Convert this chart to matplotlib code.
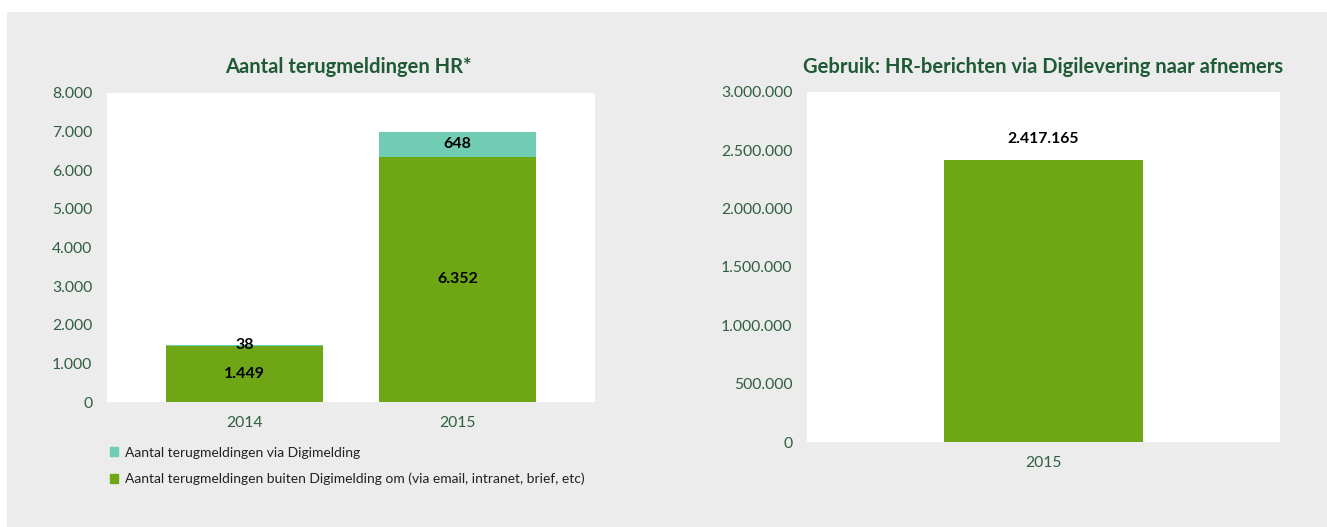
import matplotlib
matplotlib.use("Agg")
import matplotlib.pyplot as plt
from matplotlib.patches import Rectangle
from matplotlib.ticker import FuncFormatter, MultipleLocator

# ---- data ----
years_left = ["2014", "2015"]
buiten_digimelding = [1449, 6352]
via_digimelding = [38, 648]
legend_labels = ["Aantal terugmeldingen via Digimelding",
                 "Aantal terugmeldingen buiten Digimelding om (via email, intranet, brief, etc)"]
title_left = "Aantal terugmeldingen HR*"

years_right = ["2015"]
digilevering = [2417165]
title_right = "Gebruik: HR-berichten via Digilevering naar afnemers"

# ---- style ----
GREEN = "#6ea616"
TEAL = "#70cdb4"
TITLE_C = "#1f5a36"
TICK_C = "#2f5f40"
PANEL = "#ececec"
plt.rcParams['font.family'] = ['Lato', 'DejaVu Sans']

W, H = 1327, 527
fig = plt.figure(figsize=(W / 100, H / 100), dpi=100, facecolor="white")

# grey panel
fig.patches.append(Rectangle((7 / W, 0), 1 - 7 / W, (H - 12) / H,
                             transform=fig.transFigure, facecolor=PANEL,
                             edgecolor="none", zorder=-10))


def nl(v):
    return f"{int(round(v)):,}".replace(",", ".")


def px_axes(x0, y0, x1, y1):
    return fig.add_axes([x0 / W, (H - y1) / H, (x1 - x0) / W, (y1 - y0) / H])


def style(ax):
    ax.set_facecolor("white")
    for s in ax.spines.values():
        s.set_visible(False)
    ax.tick_params(length=0, colors=TICK_C, labelsize=11.3)
    ax.tick_params(axis="y", pad=10.5)
    ax.tick_params(axis="x", pad=10)
    ax.yaxis.set_major_formatter(FuncFormatter(lambda v, p: nl(v)))


# ---- left chart ----
axl = px_axes(107, 93, 595, 402)
style(axl)
x = range(len(years_left))
b1 = axl.bar(x, buiten_digimelding, width=0.74, color=GREEN, label=legend_labels[1])
b2 = axl.bar(x, via_digimelding, width=0.74, bottom=buiten_digimelding, color=TEAL,
             label=legend_labels[0])
axl.bar_label(b1, labels=[nl(v) for v in buiten_digimelding], label_type="center",
              fontsize=11.5, fontweight="bold", color="black")
axl.bar_label(b2, labels=[nl(v) for v in via_digimelding], label_type="center",
              fontsize=11.5, fontweight="bold", color="black")
axl.set_xticks(list(x))
axl.set_xticklabels(years_left)
axl.set_xlim(-0.645, 1.645)
axl.set_ylim(0, 8000)
axl.yaxis.set_major_locator(MultipleLocator(1000))
fig.text(348 / W, 1 - 67 / H, title_left, ha="center", va="center",
         fontsize=14.5, fontweight="bold", color=TITLE_C)

handles = [Rectangle((0, 0), 1, 1, color=TEAL), Rectangle((0, 0), 1, 1, color=GREEN)]
fig.legend(handles, legend_labels, loc="upper left",
           bbox_to_anchor=(104 / W, 1 - 441 / H), frameon=False,
           fontsize=10, labelcolor="#222222", handlelength=0.6, handleheight=0.6,
           handletextpad=0.5, labelspacing=1.0, borderaxespad=0)

# ---- right chart ----
axr = px_axes(807, 92, 1280, 442)
style(axr)
xr = range(len(years_right))
br = axr.bar(xr, digilevering, width=0.42, color=GREEN)
axr.bar_label(br, labels=[nl(v) for v in digilevering], padding=10,
              fontsize=11.3, fontweight="bold", color="black")
axr.set_xticks(list(xr))
axr.set_xticklabels(years_right)
axr.set_xlim(-0.5, 0.5)
axr.set_ylim(0, 3000000)
axr.yaxis.set_major_locator(MultipleLocator(500000))
fig.text(1043 / W, 1 - 67 / H, title_right, ha="center", va="center",
         fontsize=14.5, fontweight="bold", color=TITLE_C)

fig.savefig("out.png", dpi=100, facecolor="white")
